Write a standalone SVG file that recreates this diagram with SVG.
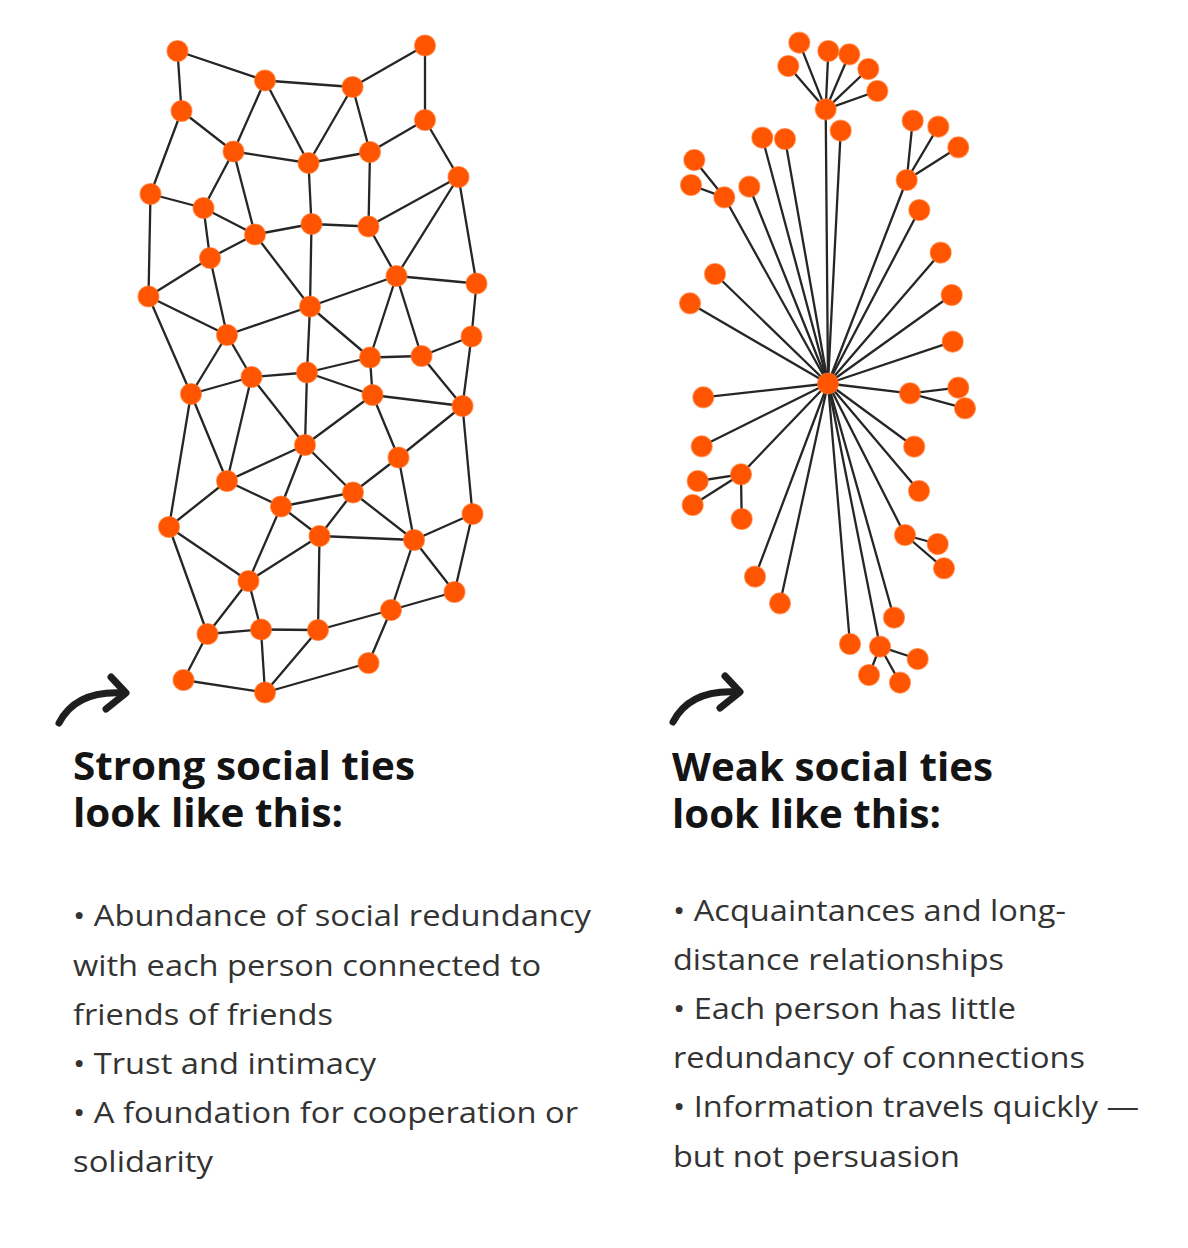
<svg xmlns="http://www.w3.org/2000/svg" width="1188" height="1248" viewBox="0 0 1188 1248">
<style>
.e{stroke:#262626;stroke-width:2.3;stroke-linecap:round;fill:none}
.n{fill:#ff5500;stroke:#ff7a30;stroke-width:1.2;stroke-opacity:0.6}
.arrow{stroke:#1e1e1e;stroke-width:7;fill:none;stroke-linecap:round;stroke-linejoin:round}
.title{font-family:"Open Sans","Noto Sans",sans-serif;font-weight:700;font-size:39px;fill:#141414}
.body{font-family:"Open Sans","Noto Sans",sans-serif;font-size:29px;fill:#333333}
</style>
<rect width="1188" height="1248" fill="#ffffff"/>
<g id="connectors">
<g id="strong-edges" class="e">
<line x1="177.5" y1="51" x2="265" y2="80.5"/>
<line x1="177.5" y1="51" x2="181.5" y2="111"/>
<line x1="265" y1="80.5" x2="352.5" y2="87"/>
<line x1="352.5" y1="87" x2="425" y2="45.5"/>
<line x1="425" y1="45.5" x2="425" y2="120"/>
<line x1="181.5" y1="111" x2="150.5" y2="194"/>
<line x1="181.5" y1="111" x2="233.5" y2="151.5"/>
<line x1="265" y1="80.5" x2="233.5" y2="151.5"/>
<line x1="265" y1="80.5" x2="308.5" y2="163"/>
<line x1="352.5" y1="87" x2="308.5" y2="163"/>
<line x1="352.5" y1="87" x2="370" y2="152"/>
<line x1="233.5" y1="151.5" x2="308.5" y2="163"/>
<line x1="308.5" y1="163" x2="370" y2="152"/>
<line x1="370" y1="152" x2="425" y2="120"/>
<line x1="425" y1="120" x2="458.5" y2="177"/>
<line x1="233.5" y1="151.5" x2="203.5" y2="208"/>
<line x1="233.5" y1="151.5" x2="255" y2="234.5"/>
<line x1="150.5" y1="194" x2="203.5" y2="208"/>
<line x1="203.5" y1="208" x2="255" y2="234.5"/>
<line x1="203.5" y1="208" x2="210" y2="258"/>
<line x1="255" y1="234.5" x2="311.5" y2="224"/>
<line x1="311.5" y1="224" x2="368.5" y2="226.5"/>
<line x1="308.5" y1="163" x2="311.5" y2="224"/>
<line x1="370" y1="152" x2="368.5" y2="226.5"/>
<line x1="368.5" y1="226.5" x2="458.5" y2="177"/>
<line x1="458.5" y1="177" x2="396.5" y2="276"/>
<line x1="458.5" y1="177" x2="476.5" y2="283.5"/>
<line x1="368.5" y1="226.5" x2="396.5" y2="276"/>
<line x1="150.5" y1="194" x2="148.5" y2="296.5"/>
<line x1="255" y1="234.5" x2="310" y2="306.5"/>
<line x1="311.5" y1="224" x2="310" y2="306.5"/>
<line x1="255" y1="234.5" x2="210" y2="258"/>
<line x1="210" y1="258" x2="148.5" y2="296.5"/>
<line x1="210" y1="258" x2="227" y2="335"/>
<line x1="148.5" y1="296.5" x2="227" y2="335"/>
<line x1="148.5" y1="296.5" x2="191" y2="394"/>
<line x1="310" y1="306.5" x2="227" y2="335"/>
<line x1="310" y1="306.5" x2="307" y2="372.5"/>
<line x1="310" y1="306.5" x2="396.5" y2="276"/>
<line x1="310" y1="306.5" x2="370" y2="357.5"/>
<line x1="396.5" y1="276" x2="476.5" y2="283.5"/>
<line x1="396.5" y1="276" x2="370" y2="357.5"/>
<line x1="396.5" y1="276" x2="421.5" y2="356"/>
<line x1="476.5" y1="283.5" x2="471.5" y2="336.5"/>
<line x1="471.5" y1="336.5" x2="421.5" y2="356"/>
<line x1="471.5" y1="336.5" x2="462.5" y2="406"/>
<line x1="227" y1="335" x2="191" y2="394"/>
<line x1="227" y1="335" x2="251.5" y2="377"/>
<line x1="251.5" y1="377" x2="191" y2="394"/>
<line x1="251.5" y1="377" x2="307" y2="372.5"/>
<line x1="307" y1="372.5" x2="370" y2="357.5"/>
<line x1="370" y1="357.5" x2="421.5" y2="356"/>
<line x1="370" y1="357.5" x2="372.5" y2="395"/>
<line x1="307" y1="372.5" x2="372.5" y2="395"/>
<line x1="421.5" y1="356" x2="462.5" y2="406"/>
<line x1="372.5" y1="395" x2="462.5" y2="406"/>
<line x1="307" y1="372.5" x2="305" y2="445"/>
<line x1="251.5" y1="377" x2="305" y2="445"/>
<line x1="251.5" y1="377" x2="227" y2="481"/>
<line x1="191" y1="394" x2="227" y2="481"/>
<line x1="191" y1="394" x2="169" y2="527"/>
<line x1="372.5" y1="395" x2="305" y2="445"/>
<line x1="372.5" y1="395" x2="398.5" y2="457.5"/>
<line x1="398.5" y1="457.5" x2="462.5" y2="406"/>
<line x1="305" y1="445" x2="227" y2="481"/>
<line x1="305" y1="445" x2="281" y2="506.5"/>
<line x1="305" y1="445" x2="353" y2="492.5"/>
<line x1="462.5" y1="406" x2="472.5" y2="514"/>
<line x1="227" y1="481" x2="169" y2="527"/>
<line x1="227" y1="481" x2="281" y2="506.5"/>
<line x1="281" y1="506.5" x2="353" y2="492.5"/>
<line x1="281" y1="506.5" x2="319.5" y2="536"/>
<line x1="281" y1="506.5" x2="248.5" y2="581"/>
<line x1="353" y1="492.5" x2="319.5" y2="536"/>
<line x1="353" y1="492.5" x2="414" y2="540"/>
<line x1="353" y1="492.5" x2="398.5" y2="457.5"/>
<line x1="398.5" y1="457.5" x2="414" y2="540"/>
<line x1="472.5" y1="514" x2="414" y2="540"/>
<line x1="472.5" y1="514" x2="454.5" y2="592"/>
<line x1="319.5" y1="536" x2="414" y2="540"/>
<line x1="319.5" y1="536" x2="248.5" y2="581"/>
<line x1="319.5" y1="536" x2="318" y2="630"/>
<line x1="169" y1="527" x2="248.5" y2="581"/>
<line x1="169" y1="527" x2="207.5" y2="634"/>
<line x1="248.5" y1="581" x2="207.5" y2="634"/>
<line x1="248.5" y1="581" x2="261" y2="629.5"/>
<line x1="414" y1="540" x2="391" y2="610"/>
<line x1="414" y1="540" x2="454.5" y2="592"/>
<line x1="391" y1="610" x2="454.5" y2="592"/>
<line x1="391" y1="610" x2="318" y2="630"/>
<line x1="391" y1="610" x2="368.5" y2="663"/>
<line x1="207.5" y1="634" x2="261" y2="629.5"/>
<line x1="207.5" y1="634" x2="183.5" y2="680"/>
<line x1="261" y1="629.5" x2="318" y2="630"/>
<line x1="261" y1="629.5" x2="265" y2="692.5"/>
<line x1="318" y1="630" x2="265" y2="692.5"/>
<line x1="183.5" y1="680" x2="265" y2="692.5"/>
<line x1="368.5" y1="663" x2="265" y2="692.5"/>
</g>
<g id="weak-edges" class="e">
<line x1="828" y1="383.5" x2="825.7" y2="109.3"/>
<line x1="828" y1="383.5" x2="840.7" y2="130.7"/>
<line x1="828" y1="383.5" x2="762.3" y2="137.7"/>
<line x1="828" y1="383.5" x2="785" y2="139"/>
<line x1="828" y1="383.5" x2="906.7" y2="180"/>
<line x1="828" y1="383.5" x2="919.3" y2="210"/>
<line x1="828" y1="383.5" x2="724.3" y2="197.3"/>
<line x1="828" y1="383.5" x2="749.3" y2="186.7"/>
<line x1="828" y1="383.5" x2="715" y2="274"/>
<line x1="828" y1="383.5" x2="690" y2="303.3"/>
<line x1="828" y1="383.5" x2="940.7" y2="252.7"/>
<line x1="828" y1="383.5" x2="951.7" y2="295"/>
<line x1="828" y1="383.5" x2="952.7" y2="341.7"/>
<line x1="828" y1="383.5" x2="703.3" y2="397.3"/>
<line x1="828" y1="383.5" x2="910" y2="393.3"/>
<line x1="828" y1="383.5" x2="701.7" y2="446.3"/>
<line x1="828" y1="383.5" x2="914.2" y2="446.7"/>
<line x1="828" y1="383.5" x2="741" y2="474.3"/>
<line x1="828" y1="383.5" x2="919" y2="491"/>
<line x1="828" y1="383.5" x2="905" y2="535"/>
<line x1="828" y1="383.5" x2="755" y2="576.7"/>
<line x1="828" y1="383.5" x2="780" y2="603.3"/>
<line x1="828" y1="383.5" x2="894" y2="617.7"/>
<line x1="828" y1="383.5" x2="850" y2="644"/>
<line x1="828" y1="383.5" x2="880" y2="646.7"/>
<line x1="825.7" y1="109.3" x2="799.3" y2="42.7"/>
<line x1="825.7" y1="109.3" x2="788.3" y2="66"/>
<line x1="825.7" y1="109.3" x2="828.3" y2="51"/>
<line x1="825.7" y1="109.3" x2="849.3" y2="54.3"/>
<line x1="825.7" y1="109.3" x2="868.3" y2="69"/>
<line x1="825.7" y1="109.3" x2="877.3" y2="91"/>
<line x1="906.7" y1="180" x2="912.7" y2="120.7"/>
<line x1="906.7" y1="180" x2="938.3" y2="126.7"/>
<line x1="906.7" y1="180" x2="958.3" y2="147.3"/>
<line x1="724.3" y1="197.3" x2="694.3" y2="160"/>
<line x1="724.3" y1="197.3" x2="691" y2="185"/>
<line x1="910" y1="393.3" x2="958.3" y2="387.7"/>
<line x1="910" y1="393.3" x2="965" y2="408.3"/>
<line x1="741" y1="474.3" x2="697.7" y2="481"/>
<line x1="741" y1="474.3" x2="692.7" y2="505"/>
<line x1="741" y1="474.3" x2="741.7" y2="519"/>
<line x1="905" y1="535" x2="937.7" y2="544"/>
<line x1="905" y1="535" x2="944" y2="568.3"/>
<line x1="880" y1="646.7" x2="917.7" y2="659"/>
<line x1="880" y1="646.7" x2="869" y2="675"/>
<line x1="880" y1="646.7" x2="900" y2="682.7"/>
</g>
</g>
<g id="strong-nodes">
<g id="s1"><circle class="n" cx="177.5" cy="51" r="10.5"/></g>
<g id="s2"><circle class="n" cx="425" cy="45.5" r="10.5"/></g>
<g id="s3"><circle class="n" cx="265" cy="80.5" r="10.5"/></g>
<g id="s4"><circle class="n" cx="352.5" cy="87" r="10.5"/></g>
<g id="s5"><circle class="n" cx="181.5" cy="111" r="10.5"/></g>
<g id="s6"><circle class="n" cx="425" cy="120" r="10.5"/></g>
<g id="s7"><circle class="n" cx="233.5" cy="151.5" r="10.5"/></g>
<g id="s8"><circle class="n" cx="308.5" cy="163" r="10.5"/></g>
<g id="s9"><circle class="n" cx="370" cy="152" r="10.5"/></g>
<g id="s10"><circle class="n" cx="458.5" cy="177" r="10.5"/></g>
<g id="s11"><circle class="n" cx="150.5" cy="194" r="10.5"/></g>
<g id="s12"><circle class="n" cx="203.5" cy="208" r="10.5"/></g>
<g id="s13"><circle class="n" cx="311.5" cy="224" r="10.5"/></g>
<g id="s14"><circle class="n" cx="368.5" cy="226.5" r="10.5"/></g>
<g id="s15"><circle class="n" cx="255" cy="234.5" r="10.5"/></g>
<g id="s16"><circle class="n" cx="210" cy="258" r="10.5"/></g>
<g id="s17"><circle class="n" cx="396.5" cy="276" r="10.5"/></g>
<g id="s18"><circle class="n" cx="476.5" cy="283.5" r="10.5"/></g>
<g id="s19"><circle class="n" cx="148.5" cy="296.5" r="10.5"/></g>
<g id="s20"><circle class="n" cx="310" cy="306.5" r="10.5"/></g>
<g id="s21"><circle class="n" cx="227" cy="335" r="10.5"/></g>
<g id="s22"><circle class="n" cx="471.5" cy="336.5" r="10.5"/></g>
<g id="s23"><circle class="n" cx="370" cy="357.5" r="10.5"/></g>
<g id="s24"><circle class="n" cx="421.5" cy="356" r="10.5"/></g>
<g id="s25"><circle class="n" cx="251.5" cy="377" r="10.5"/></g>
<g id="s26"><circle class="n" cx="307" cy="372.5" r="10.5"/></g>
<g id="s27"><circle class="n" cx="191" cy="394" r="10.5"/></g>
<g id="s28"><circle class="n" cx="372.5" cy="395" r="10.5"/></g>
<g id="s29"><circle class="n" cx="462.5" cy="406" r="10.5"/></g>
<g id="s30"><circle class="n" cx="305" cy="445" r="10.5"/></g>
<g id="s31"><circle class="n" cx="398.5" cy="457.5" r="10.5"/></g>
<g id="s32"><circle class="n" cx="227" cy="481" r="10.5"/></g>
<g id="s33"><circle class="n" cx="353" cy="492.5" r="10.5"/></g>
<g id="s34"><circle class="n" cx="281" cy="506.5" r="10.5"/></g>
<g id="s35"><circle class="n" cx="169" cy="527" r="10.5"/></g>
<g id="s36"><circle class="n" cx="319.5" cy="536" r="10.5"/></g>
<g id="s37"><circle class="n" cx="414" cy="540" r="10.5"/></g>
<g id="s38"><circle class="n" cx="472.5" cy="514" r="10.5"/></g>
<g id="s39"><circle class="n" cx="248.5" cy="581" r="10.5"/></g>
<g id="s40"><circle class="n" cx="454.5" cy="592" r="10.5"/></g>
<g id="s41"><circle class="n" cx="391" cy="610" r="10.5"/></g>
<g id="s42"><circle class="n" cx="207.5" cy="634" r="10.5"/></g>
<g id="s43"><circle class="n" cx="261" cy="629.5" r="10.5"/></g>
<g id="s44"><circle class="n" cx="318" cy="630" r="10.5"/></g>
<g id="s45"><circle class="n" cx="368.5" cy="663" r="10.5"/></g>
<g id="s46"><circle class="n" cx="183.5" cy="680" r="10.5"/></g>
<g id="s47"><circle class="n" cx="265" cy="692.5" r="10.5"/></g>
</g>
<g id="weak-nodes">
<g id="w-center"><circle class="n" cx="828" cy="383.5" r="10.5"/></g>
<g id="w-h1"><circle class="n" cx="825.7" cy="109.3" r="10.5"/></g>
<g id="w-b1"><circle class="n" cx="799.3" cy="42.7" r="10.5"/></g>
<g id="w-b2"><circle class="n" cx="788.3" cy="66" r="10.5"/></g>
<g id="w-b3"><circle class="n" cx="828.3" cy="51" r="10.5"/></g>
<g id="w-b4"><circle class="n" cx="849.3" cy="54.3" r="10.5"/></g>
<g id="w-b5"><circle class="n" cx="868.3" cy="69" r="10.5"/></g>
<g id="w-b6"><circle class="n" cx="877.3" cy="91" r="10.5"/></g>
<g id="w-b7"><circle class="n" cx="840.7" cy="130.7" r="10.5"/></g>
<g id="w-b8"><circle class="n" cx="762.3" cy="137.7" r="10.5"/></g>
<g id="w-b9"><circle class="n" cx="785" cy="139" r="10.5"/></g>
<g id="w-h2"><circle class="n" cx="906.7" cy="180" r="10.5"/></g>
<g id="w-b10"><circle class="n" cx="912.7" cy="120.7" r="10.5"/></g>
<g id="w-b11"><circle class="n" cx="938.3" cy="126.7" r="10.5"/></g>
<g id="w-b12"><circle class="n" cx="958.3" cy="147.3" r="10.5"/></g>
<g id="w-b13"><circle class="n" cx="919.3" cy="210" r="10.5"/></g>
<g id="w-h3"><circle class="n" cx="724.3" cy="197.3" r="10.5"/></g>
<g id="w-b14"><circle class="n" cx="694.3" cy="160" r="10.5"/></g>
<g id="w-b15"><circle class="n" cx="691" cy="185" r="10.5"/></g>
<g id="w-b16"><circle class="n" cx="749.3" cy="186.7" r="10.5"/></g>
<g id="w-d1"><circle class="n" cx="715" cy="274" r="10.5"/></g>
<g id="w-d2"><circle class="n" cx="690" cy="303.3" r="10.5"/></g>
<g id="w-d3"><circle class="n" cx="940.7" cy="252.7" r="10.5"/></g>
<g id="w-d4"><circle class="n" cx="951.7" cy="295" r="10.5"/></g>
<g id="w-d5"><circle class="n" cx="952.7" cy="341.7" r="10.5"/></g>
<g id="w-d6"><circle class="n" cx="703.3" cy="397.3" r="10.5"/></g>
<g id="w-h4"><circle class="n" cx="910" cy="393.3" r="10.5"/></g>
<g id="w-d7"><circle class="n" cx="958.3" cy="387.7" r="10.5"/></g>
<g id="w-d8"><circle class="n" cx="965" cy="408.3" r="10.5"/></g>
<g id="w-d9"><circle class="n" cx="701.7" cy="446.3" r="10.5"/></g>
<g id="w-d10"><circle class="n" cx="914.2" cy="446.7" r="10.5"/></g>
<g id="w-h5"><circle class="n" cx="741" cy="474.3" r="10.5"/></g>
<g id="w-e1"><circle class="n" cx="697.7" cy="481" r="10.5"/></g>
<g id="w-e2"><circle class="n" cx="692.7" cy="505" r="10.5"/></g>
<g id="w-e3"><circle class="n" cx="741.7" cy="519" r="10.5"/></g>
<g id="w-e4"><circle class="n" cx="919" cy="491" r="10.5"/></g>
<g id="w-h6"><circle class="n" cx="905" cy="535" r="10.5"/></g>
<g id="w-e5"><circle class="n" cx="937.7" cy="544" r="10.5"/></g>
<g id="w-e6"><circle class="n" cx="944" cy="568.3" r="10.5"/></g>
<g id="w-e7"><circle class="n" cx="755" cy="576.7" r="10.5"/></g>
<g id="w-e8"><circle class="n" cx="780" cy="603.3" r="10.5"/></g>
<g id="w-e9"><circle class="n" cx="894" cy="617.7" r="10.5"/></g>
<g id="w-e10"><circle class="n" cx="850" cy="644" r="10.5"/></g>
<g id="w-h7"><circle class="n" cx="880" cy="646.7" r="10.5"/></g>
<g id="w-e11"><circle class="n" cx="917.7" cy="659" r="10.5"/></g>
<g id="w-e12"><circle class="n" cx="869" cy="675" r="10.5"/></g>
<g id="w-e13"><circle class="n" cx="900" cy="682.7" r="10.5"/></g>
</g>
<g id="arrow-strong" class="arrow">
<path d="M59,723 Q76,690 124,693"/>
<path d="M111,677 L126,693 L106,709"/>
</g>
<g id="arrow-weak" class="arrow">
<path d="M673,722 Q690,689 738,692"/>
<path d="M725,676 L740,692 L720,708"/>
</g>
<g id="text-strong">
<text class="title" x="73" y="780" textLength="342" lengthAdjust="spacingAndGlyphs">Strong social ties</text>
<text class="title" x="73" y="827" textLength="270" lengthAdjust="spacingAndGlyphs">look like this:</text>
<text class="body" x="73" y="926" textLength="518" lengthAdjust="spacingAndGlyphs">• Abundance of social redundancy</text>
<text class="body" x="73" y="976" textLength="468" lengthAdjust="spacingAndGlyphs">with each person connected to</text>
<text class="body" x="73" y="1025" textLength="260" lengthAdjust="spacingAndGlyphs">friends of friends</text>
<text class="body" x="73" y="1074" textLength="303" lengthAdjust="spacingAndGlyphs">• Trust and intimacy</text>
<text class="body" x="73" y="1123" textLength="505" lengthAdjust="spacingAndGlyphs">• A foundation for cooperation or</text>
<text class="body" x="73" y="1172" textLength="140" lengthAdjust="spacingAndGlyphs">solidarity</text>
</g>
<g id="text-weak">
<text class="title" x="672" y="781" textLength="321" lengthAdjust="spacingAndGlyphs">Weak social ties</text>
<text class="title" x="672" y="828" textLength="269" lengthAdjust="spacingAndGlyphs">look like this:</text>
<text class="body" x="673" y="921" textLength="393" lengthAdjust="spacingAndGlyphs">• Acquaintances and long-</text>
<text class="body" x="673" y="970" textLength="331" lengthAdjust="spacingAndGlyphs">distance relationships</text>
<text class="body" x="673" y="1019" textLength="343" lengthAdjust="spacingAndGlyphs">• Each person has little</text>
<text class="body" x="673" y="1068" textLength="412" lengthAdjust="spacingAndGlyphs">redundancy of connections</text>
<text class="body" x="673" y="1117" textLength="466" lengthAdjust="spacingAndGlyphs">• Information travels quickly —</text>
<text class="body" x="673" y="1167" textLength="287" lengthAdjust="spacingAndGlyphs">but not persuasion</text>
</g>
</svg>
